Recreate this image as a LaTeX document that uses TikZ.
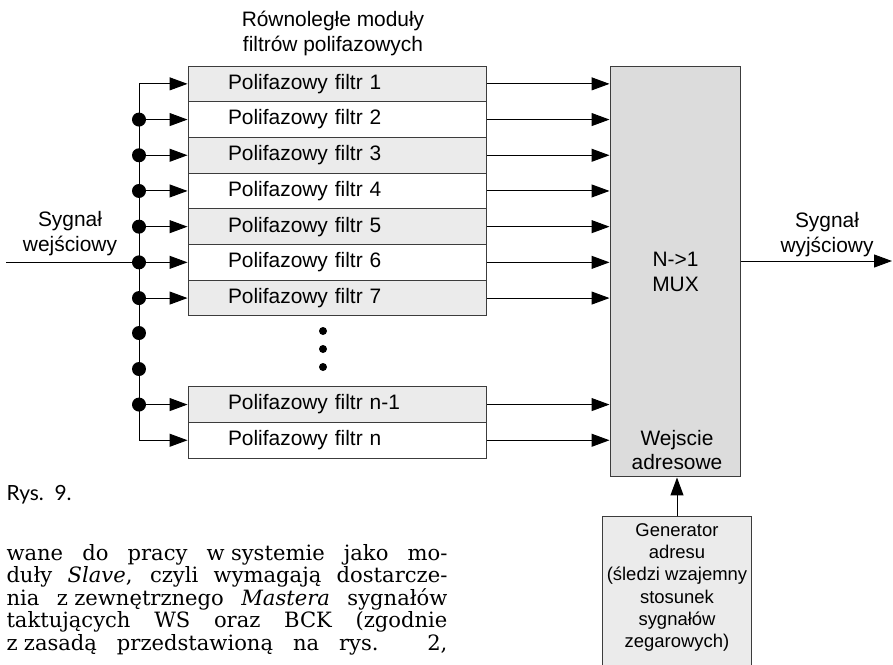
\documentclass[tikz,border=0pt]{standalone}
\usepackage{fontspec}
\setmainfont{Liberation Sans}
\newfontfamily\pagefont{DejaVu Serif}
\newfontfamily\capfont{Lato}
\usetikzlibrary{arrows.meta}
\definecolor{filtergray}{HTML}{EBEBEB}
\definecolor{muxgray}{HTML}{DCDCDC}
\definecolor{edgegray}{HTML}{3C3C3C}

\begin{document}
\begin{tikzpicture}
  [x=0.02cm,y=-0.02cm,line width=0.57pt,
   every node/.style={font=\fontsize{11.9}{14.2}\selectfont},
   filter/.style={draw=edgegray,rectangle,minimum height=0.714cm,inner xsep=0.8cm,text width=4.38cm,align=left},
   shaded/.style={fill=filtergray},
   muxbox/.style={draw=edgegray,fill=muxgray,minimum width=2.62cm,minimum height=8.22cm,align=center},
   genbox/.style={draw=edgegray,fill=filtergray,minimum width=3cm,minimum height=3.4cm},
   gentext/.style={align=center,font=\fontsize{10.5}{12.7}\selectfont},
   sigtext/.style={align=center},
   pagetext/.style={anchor=base west,inner sep=0pt,font=\pagefont\fontsize{12}{13}\selectfont},
   arr/.style={-{Triangle[length=0.36cm,width=0.26cm]}}]
  \useasboundingbox (0,0) rectangle (893,664);
  \clip (0,0) rectangle (893,664);
  \node (f1)  [filter,shaded] at (337.5,83.85)  {Polifazowy filtr 1};
  \node (f2)  [filter,fill=white] at (337.5,119.55) {Polifazowy filtr 2};
  \node (f3)  [filter,shaded] at (337.5,155.25) {Polifazowy filtr 3};
  \node (f4)  [filter,fill=white] at (337.5,190.95) {Polifazowy filtr 4};
  \node (f5)  [filter,shaded] at (337.5,226.65) {Polifazowy filtr 5};
  \node (f6)  [filter,fill=white] at (337.5,262.35) {Polifazowy filtr 6};
  \node (f7)  [filter,shaded] at (337.5,298.05) {Polifazowy filtr 7};
  \node (fn1) [filter,shaded] at (337.5,404.55) {Polifazowy filtr n-1};
  \node (fn)  [filter,fill=white] at (337.5,440.25) {Polifazowy filtr n};
  \node (mux) [muxbox] at (675.5,271.5) {N->1\\MUX};
  \node (addr) [sigtext] at (677,450) {Wejscie\\adresowe};
  \node (gen) [genbox,anchor=north] at (677,516) {};
  \node (gentx) [gentext] at (677,587.5) {Generator\\adresu\\(śledzi wzajemny\\stosunek\\sygnałów\\zegarowych)};
  \node (title) [sigtext] at (333,33) {Równoległe moduły\\filtrów polifazowych};
  \node (inlbl) [sigtext] at (70,234) {Sygnał\\wejściowy};
  \node (outlbl) [sigtext] at (827,235) {Sygnał\\wyjściowy};
  % bus of the input signal
  \coordinate (bus) at (139,0);
  \foreach \i in {1,2,3,4,5,6,7,n1,n}
    \coordinate (b\i) at (f\i -| bus);
  \coordinate (d1) at (139,333);
  \coordinate (d2) at (139,369);
  \coordinate (in) at (6,262.35);
  \coordinate (out) at (892,261);
  \draw (b1) -- (bn);
  \draw (in) -- (b6);
  \foreach \d in {b2,b3,b4,b5,b6,b7,d1,d2,bn1}
    \fill (\d) circle (0.14cm);
  \foreach \i in {1,2,3,4,5,6,7,n1,n}
    \draw[arr] (b\i) -- (f\i);
  \foreach \i in {1,2,3,4,5,6,7,n1,n}
    \draw[arr] (f\i) -- (f\i -| mux.west);
  \foreach \y in {331,349,367}
    \fill (323,\y) circle (0.08cm);
  \draw[arr] (out -| mux.east) -- (out);
  \draw[arr] (gen) -- (gen |- mux.south);
  % caption and page text
  \node (rys) [anchor=base west,inner sep=0pt,font=\capfont\fontsize{11.9}{14}\selectfont] at (6,500) {Rys.\ \ 9.};
  \node (p1) [pagetext] at (6,560) {\makebox[8.82cm][s]{wane do pracy w\hspace{0.3em}systemie jako mo-}};
  \node (p2) [pagetext] at (6,582.5) {\makebox[8.82cm][s]{duły \textit{Slave}, czyli wymagają dostarcze-}};
  \node (p3) [pagetext] at (6,605) {\makebox[8.82cm][s]{nia z\hspace{0.3em}zewnętrznego \textit{Mastera} sygnałów}};
  \node (p4) [pagetext] at (6,627.5) {\makebox[8.82cm][s]{taktujących WS oraz BCK (zgodnie}};
  \node (p5) [pagetext] at (6,650) {\makebox[8.82cm][s]{z\hspace{0.3em}zasadą przedstawioną na rys. 2,}};
\end{tikzpicture}
\end{document}
